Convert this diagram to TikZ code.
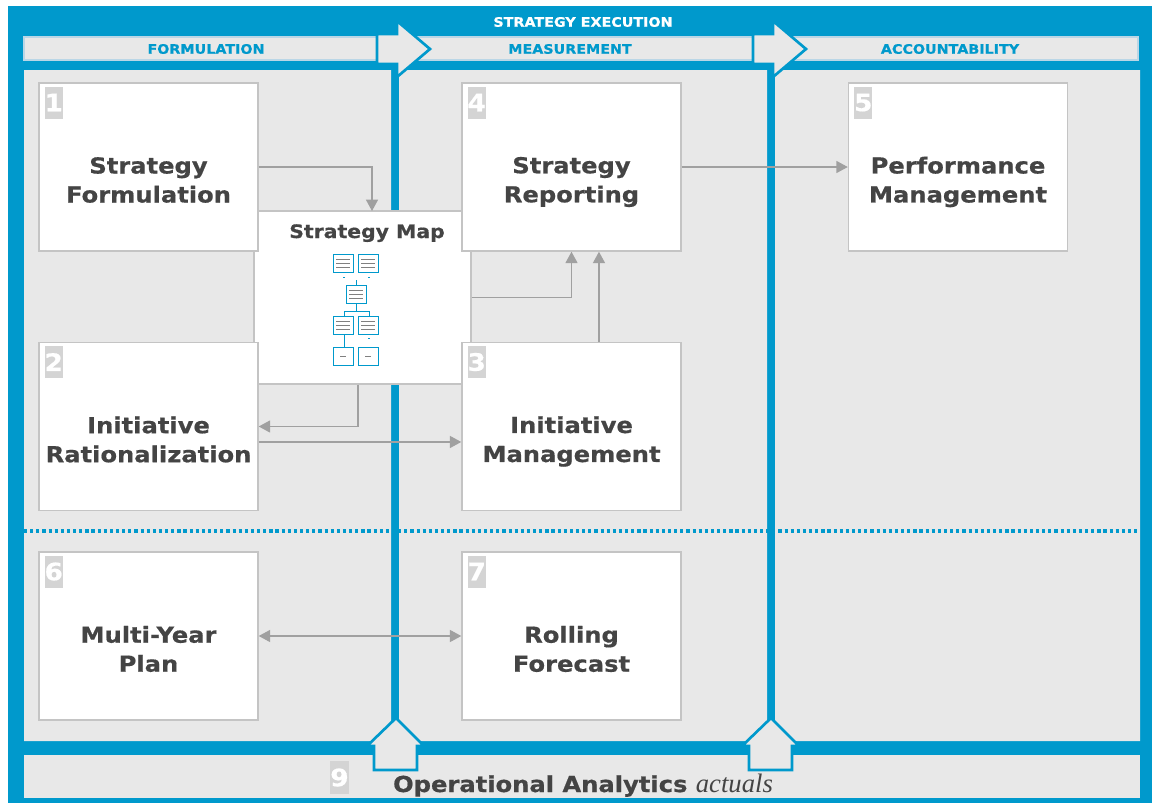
\documentclass[tikz,border=0pt]{standalone}
\usepackage{fontspec}
\setmainfont{DejaVu Sans}[FakeStretch=1.1,BoldFeatures={FakeBold=0.6}]
\newfontfamily\notefont{Liberation Serif}
\usetikzlibrary{arrows.meta,positioning}

\definecolor{execblue}{RGB}{0,153,204}
\definecolor{panelgray}{RGB}{232,232,232}
\definecolor{boxline}{RGB}{196,196,196}
\definecolor{linkgray}{RGB}{160,160,160}
\definecolor{labelgray}{RGB}{68,68,68}
\definecolor{badgegray}{RGB}{212,212,212}
\definecolor{barline}{RGB}{186,214,230}

\tikzset{
  stage/.style={draw=boxline, line width=1.1pt, fill=white, minimum width=164.25pt, minimum height=126pt, inner sep=0pt},
  stagelabel/.style={align=center, text=labelgray, font=\bfseries\fontsize{16.5}{21.75}\selectfont},
  badge/.style={fill=badgegray, text=white, font=\bfseries\fontsize{18}{18}\selectfont, minimum width=13.5pt, minimum height=24pt, inner sep=0pt},
  phasebar/.style={fill=panelgray, draw=barline, line width=0.8pt},
  phasearrow/.style={fill=panelgray, draw=execblue, line width=2pt, line join=miter},
  phasetitle/.style={text=execblue, font=\bfseries\fontsize{9.75}{11}\selectfont},
  link/.style={draw=linkgray, line width=0.9pt},
  minibox/.style={draw=execblue, line width=0.6pt, fill=white}
}

\begin{document}
\begin{tikzpicture}[x=0.75pt,y=-0.75pt,>={Triangle[width=9pt,length=8.5pt]}]
\useasboundingbox (0,0) rectangle (1163,807);
\fill[execblue] (8,6) rectangle (1152,803);
\fill[panelgray] (24,70) rectangle (391,741) (399,70) rectangle (767,741) (775,70) rectangle (1140,741);
\fill[panelgray] (24,755) rectangle (1140,798);
\draw[phasebar] (24,37) rectangle (385,60) (405,37) rectangle (760,60) (780,37) rectangle (1138,60);
\foreach \s in {0,376}
  \draw[phasearrow,xshift=\s*0.75pt] (377,34) -- (397,34) -- (397,21) -- (430,49) -- (397,77) -- (397,64) -- (377,64) -- cycle;
\foreach \s in {0,375}
  \draw[phasearrow,xshift=\s*0.75pt] (396,718) -- (424,746) -- (417,746) -- (417,770) -- (374,770) -- (374,746) -- (367,746) -- cycle;
\draw[execblue,line width=2.4pt,dash pattern=on 2.4pt off 2.2pt] (24,531) -- (1140,531);

\node[phasetitle,text=white] (execution) at (583,22) {STRATEGY EXECUTION};
\node[phasetitle] (formulation) at (206,49) {FORMULATION};
\node[phasetitle] (measurement) at (570,49) {MEASUREMENT};
\node[phasetitle] (accountability) at (950,49) {ACCOUNTABILITY};

% strategy map card with its small tree
\node[stage,minimum width=162.75pt,minimum height=129.75pt] (smap) at (362.5,297.5) {};
\node[anchor=base,text=labelgray,font=\bfseries\fontsize{13.9}{16}\selectfont] (smaptitle) at (367,238) {Strategy Map};
\foreach \x/\y in {333/254,358/254,346/285,333/316,358/316,333/347,358/347}
  \draw[minibox] (\x,\y) rectangle ++(20,18);
\foreach \x/\y in {333/254,358/254,346/285,333/316,358/316}
  \foreach \k in {5,9,13}
    \draw[gray,line width=0.3pt] (\x+3,\y+\k) -- ++(14,0);
\foreach \x/\y in {333/347,358/347}
  \draw[gray,line width=0.3pt] (\x+7,\y+9) -- ++(6,0);
\draw[execblue,line width=0.6pt] (356,280) -- (356,285) (356,303) -- (356,311) (344,311) -- (369,311)
  (344,311) -- (344,316) (369,311) -- (369,316) (344,334) -- (344,347)
  (343,277) -- (345,277) (368,277) -- (370,277) (368,338) -- (370,338);

\node[stage] (sf) at (148.5,167) {};
\node[stage] (sr) at (571.5,167) {};
\node[stage] (pm) at (958,167) {};
\node[stage] (ir) at (148.5,426.5) {};
\node[stage] (im) at (571.5,426.5) {};
\node[stage] (myp) at (148.5,636) {};
\node[stage] (rf) at (571.5,636) {};

\node[badge,below right=3pt and 4.5pt of sf.north west] (n1) {1};
\node[badge,below right=3pt and 4.5pt of ir.north west] (n2) {2};
\node[badge,below right=3pt and 4.5pt of im.north west] (n3) {3};
\node[badge,below right=3pt and 4.5pt of sr.north west] (n4) {4};
\node[badge,below right=3pt and 4.5pt of pm.north west] (n5) {5};
\node[badge,below right=3pt and 4.5pt of myp.north west] (n6) {6};
\node[badge,below right=3pt and 4.5pt of rf.north west] (n7) {7};

\node[stagelabel] (sftext) at (148.5,180) {Strategy\\Formulation};
\node[stagelabel] (srtext) at (571.5,182) {Strategy\\Reporting};
\node[stagelabel] (pmtext) at (958,182) {Performance\\Management};
\node[stagelabel] (irtext) at (148.5,439.5) {Initiative\\Rationalization};
\node[stagelabel] (imtext) at (571.5,441.5) {Initiative\\Management};
\node[stagelabel] (myptext) at (148.5,649) {Multi-Year\\Plan};
\node[stagelabel] (rftext) at (571.5,649) {Rolling\\Forecast};

\coordinate (mapin) at (372,211);
\draw[link,->] (sf.east) -| (mapin);
\draw[link,->] (sr.east) -- (pm.west);
\draw[link,->] (smap.east) -| (sr.south);
\draw[link,->] ([xshift=20.6pt]im.north) -- ([xshift=20.6pt]sr.south);
\draw[link,->] ([xshift=-3.4pt]smap.south) |- (ir.east);
\draw[link,->] ([yshift=-11.6pt]ir.east) -- ([yshift=-11.6pt]im.west);
\draw[link,<->] (myp.east) -- (rf.west);

\node[badge,minimum width=14.25pt,minimum height=24.75pt] (n9) at (339.5,777.5) {9};
\node[anchor=base,text=labelgray] (ops) at (583,792) {\bfseries\fontsize{16.5}{18}\selectfont Operational Analytics \notefont\mdseries\itshape\fontsize{20}{22}\selectfont actuals};
\end{tikzpicture}
\end{document}
